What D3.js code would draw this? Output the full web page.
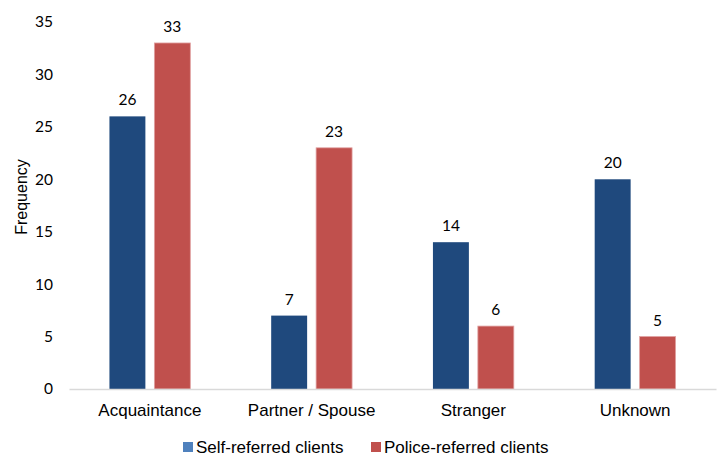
<body style="margin:0;background:#fff">
  <script src='https://d3js.org/d3.v7.min.js' charset='utf-8'></script>
  <script>

    var svgArea = { width: 718, height: 457 };

    var categories = ['Acquaintance', 'Partner / Spouse', 'Stranger', 'Unknown'];
    var seriesNames = ['Self-referred clients', 'Police-referred clients'];
    var selfReferred = [26, 7, 14, 20];
    var policeReferred = [33, 23, 6, 5];
    var yTicks = [0, 5, 10, 15, 20, 25, 30, 35];

    var colors = {
      'Self-referred clients': '#1f497d',
      'Police-referred clients': '#c0504d'
    };
    var legendColors = {
      'Self-referred clients': '#4f81bd',
      'Police-referred clients': '#c0504d'
    };

    var data = categories.map(function(c, i) {
      return { cat: c, values: [
        { key: seriesNames[0], value: selfReferred[i] },
        { key: seriesNames[1], value: policeReferred[i] }
      ] };
    });

    const svg = d3.select('body').append('svg')
      .attr('width', svgArea.width)
      .attr('height', svgArea.height)
      .style('display', 'block');

    var x0 = d3.scaleBand()
      .domain(categories)
      .range([69, 716])
      .paddingInner(0)
      .paddingOuter(0);

    var x1 = d3.scaleBand()
      .domain(seriesNames)
      .range([0, x0.bandwidth()])
      .paddingInner(0.2)
      .paddingOuter(0.9);

    var yScale = d3.scaleLinear()
      .domain([0, 35])
      .range([389, 22]);

    // y axis labels (no axis line)
    var yAxis = d3.axisLeft(yScale).tickValues(yTicks).tickSize(0).tickPadding(0);
    var yg = svg.append('g')
      .attr('transform', 'translate(53,0)')
      .call(yAxis);
    yg.select('.domain').remove();
    yg.selectAll('text')
      .attr('font-family', 'Lato, "Open Sans", sans-serif')
      .attr('font-size', 15.5)
      .attr('fill', '#000');

    svg.append('text')
      .attr('transform', 'translate(27,197) rotate(-90)')
      .attr('text-anchor', 'middle')
      .attr('font-family', '"Liberation Sans", Arial, sans-serif')
      .attr('font-size', 16)
      .attr('fill', '#000')
      .text('Frequency');

    // bars
    var groups = svg.append('g')
      .selectAll('g')
      .data(data)
      .join('g')
        .attr('transform', d => 'translate(' + x0(d.cat) + ',0)');

    groups.selectAll('rect')
      .data(d => d.values)
      .join('rect')
        .attr('x', d => x1(d.key))
        .attr('y', d => yScale(d.value))
        .attr('width', x1.bandwidth())
        .attr('height', d => yScale(0) - yScale(d.value))
        .attr('fill', d => colors[d.key])
        .attr('stroke', d => d.key === seriesNames[1] ? '#e0a0a0' : 'none')
        .attr('stroke-width', 0.8);

    groups.selectAll('text')
      .data(d => d.values)
      .join('text')
        .attr('x', d => x1(d.key) + x1.bandwidth() / 2)
        .attr('y', d => yScale(d.value) - 11)
        .attr('text-anchor', 'middle')
        .attr('font-family', 'Lato, "Open Sans", sans-serif')
        .attr('font-size', 15.5)
        .attr('fill', '#000')
        .text(d => d.value);

    // baseline
    var xAxis = d3.axisBottom(x0).tickSize(0).tickPadding(15);
    var xg = svg.append('g')
      .attr('transform', 'translate(0,' + yScale(0) + ')')
      .call(xAxis);
    xg.select('.domain').attr('stroke', '#d9d9d9').attr('stroke-width', 1.3);
    xg.selectAll('text')
      .attr('font-family', '"Liberation Sans", Arial, sans-serif')
      .attr('font-size', 17)
      .attr('fill', '#000');

    // legend
    var legendX = [183, 371];
    var legend = svg.append('g')
      .selectAll('g')
      .data(seriesNames)
      .join('g')
        .attr('transform', (d, i) => 'translate(' + legendX[i] + ',447)');
    legend.append('rect')
      .attr('x', 0).attr('y', -5)
      .attr('width', 10).attr('height', 10)
      .attr('fill', d => legendColors[d]);
    legend.append('text')
      .attr('x', 13).attr('y', 6)
      .attr('font-family', '"Liberation Sans", Arial, sans-serif')
      .attr('font-size', 17)
      .attr('fill', '#000')
      .text(d => d);
  </script>
</body>
